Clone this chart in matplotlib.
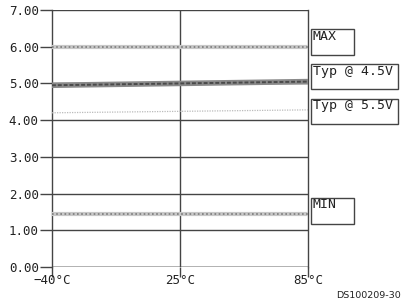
import matplotlib
matplotlib.use("Agg")
import matplotlib.pyplot as plt
from matplotlib.patches import Rectangle

temps = ["\u221240\u00b0C", "25\u00b0C", "85\u00b0C"]
yticks = [0, 1, 2, 3, 4, 5, 6, 7]
max_v = [5.98, 5.98, 5.98]
typ45_v = [4.95, 5.00, 5.05]
typ55_v = [4.20, 4.24, 4.28]
min_v = [1.45, 1.45, 1.45]
labels = ["MAX", "Typ @ 4.5V", "Typ @ 5.5V", "MIN"]

W, H = 402, 305
fig = plt.figure(figsize=(W / 100, H / 100), dpi=100)
ax = fig.add_axes([52 / W, 1 - 267 / H, (308 - 52) / W, (267 - 10) / H])
mono = "DejaVu Sans Mono"
x = list(range(len(temps)))

ax.set_xlim(0, 2)
ax.set_ylim(0, 7)
for y in yticks:
    ax.axhline(y, color="#9a9a9a" if y == 0 else "#444444", lw=1.8 if y == 0 else 1.0, zorder=1)
ax.axvline(1, color="#444444", lw=1.0, zorder=1)

# MAX
ax.plot(x, max_v, color="#c8c8c8", lw=3.0, zorder=3, solid_capstyle="butt")
ax.plot(x, max_v, color="#7a7a7a", lw=1.2, ls=(0, (1, 1.5)), zorder=4)
# Typ 4.5V
ax.plot(x, typ45_v, color="#8a8a8a", lw=4.0, zorder=3, solid_capstyle="butt")
ax.plot(x, typ45_v, color="#4a4a4a", lw=1.4, ls=(0, (2, 1)), zorder=4)
# Typ 5.5V
ax.plot(x, typ55_v, color="#bbbbbb", lw=0.9, ls=(0, (1, 1)), zorder=3)
# MIN
ax.plot(x, min_v, color="#c8c8c8", lw=3.0, zorder=3, solid_capstyle="butt")
ax.plot(x, min_v, color="#7a7a7a", lw=1.2, ls=(0, (1, 1.5)), zorder=4)

for s in ["top", "bottom"]:
    ax.spines[s].set_visible(False)
ax.spines["left"].set_color("#444444")
ax.spines["right"].set_color("#444444")
ax.spines["left"].set_linewidth(1.0)
ax.spines["right"].set_linewidth(1.0)

ax.set_yticks(yticks)
ax.set_yticklabels([f"{v:.2f}" for v in yticks], fontfamily=mono, fontsize=9, color="#222222")
ax.set_xticks(x)
ax.set_xticklabels(temps, fontfamily=mono, fontsize=9, color="#222222")
ax.tick_params(axis="y", length=9, width=1.0, color="#444444", pad=0.5)
ax.tick_params(axis="x", length=7, width=1.0, color="#444444", pad=-2, direction="out")

# label boxes (pixel coords top-left based)
boxes = [(311, 29, 43, 26), (311, 64, 87, 25), (311, 99, 87, 25), (311, 198, 43, 26)]
for lab, (bx, by, bw, bh) in zip(labels, boxes):
    fig.patches.append(Rectangle((bx / W, 1 - (by + bh) / H), bw / W, bh / H,
                                 transform=fig.transFigure, fill=False,
                                 edgecolor="#444444", lw=1.0))
    fig.text((bx + 2) / W, 1 - (by + 0.5) / H, lab, ha="left", va="top",
             fontfamily=mono, fontsize=9.5, color="#222222")

fig.text(401 / W, 1 - 296 / H, "DS100209-30", ha="right", va="center",
         fontfamily="DejaVu Sans", fontsize=6.8, color="#222222")

fig.savefig("out.png", dpi=100)
